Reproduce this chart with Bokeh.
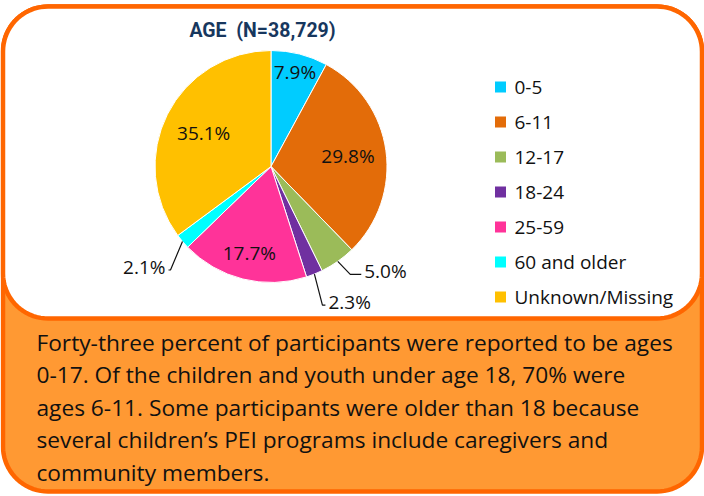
import numpy as np
from bokeh.plotting import figure
from bokeh.models import Range1d, ColumnDataSource
from bokeh.core.properties import value
from bokeh.embed import file_html
from bokeh.resources import INLINE

# ---------------- data ----------------
categories = ["0-5", "6-11", "12-17", "18-24", "25-59", "60 and older", "Unknown/Missing"]
percents = [7.9, 29.8, 5.0, 2.3, 17.7, 2.1, 35.1]
colors = ["#00CCFF", "#E36C09", "#9BBB59", "#7030A0", "#FF3399", "#00FFFF", "#FFC000"]
pct_labels = ["7.9%", "29.8%", "5.0%", "2.3%", "17.7%", "2.1%", "35.1%"]
title_text = "AGE \u00a0(N=38,729)"
body_lines = [
    "Forty-three percent of participants were reported to be ages",
    "0-17. Of the children and youth under age 18, 70% were",
    "ages 6-11. Some participants were older than 18 because",
    "several children\u2019s PEI programs include caregivers and",
    "community members.",
]

# ---------------- layout (pixel coords, y measured downward) ----------------
W, H = 704, 496
FONT = "Open Sans"
DARK = "#FF6600"
LIGHT = "#FF9933"


def Y(y):
    return H - np.asarray(y, dtype=float)


def rrect(x0, y0, x1, y1, r, n=20):
    xs, ys = [], []
    corners = [((x0 + r, y0 + r), np.pi, 1.5 * np.pi),
               ((x1 - r, y0 + r), 1.5 * np.pi, 2 * np.pi),
               ((x1 - r, y1 - r), 0.0, 0.5 * np.pi),
               ((x0 + r, y1 - r), 0.5 * np.pi, np.pi)]
    for (cx, cy), a0, a1 in corners:
        t = np.linspace(a0, a1, n)
        xs.extend(cx + r * np.cos(t))
        ys.extend(cy + r * np.sin(t))
    return list(xs), list(Y(ys))


p = figure(width=W, height=H, x_range=Range1d(0, W), y_range=Range1d(0, H),
           output_backend="svg", toolbar_location=None,
           x_axis_location=None, y_axis_location=None, min_border=0,
           outline_line_color=None, background_fill_color="white",
           border_fill_color="white")
p.grid.visible = False
p.margin = (0, 0, 0, 0)

# frame: outer orange box and white top panel
ox, oy = rrect(2.5, 6, 701.5, 491, 45)
p.patch(ox, oy, fill_color=LIGHT, line_color=DARK, line_width=4.5)
wx, wy = rrect(2.5, 6, 701.5, 318, 45)
p.patch(wx, wy, fill_color="white", line_color=DARK, line_width=4.5)

# title
p.text([262], Y([30]), text=[title_text], text_align="center", text_baseline="middle",
       text_font=value("Roboto"), text_font_style="bold", text_font_size="19.5px",
       text_color="#17375E")

# ---------------- pie ----------------
CX, CY, R = 270.5, 166.0, 116.0
total = sum(percents)
frac = np.array(percents) / total
cum = np.concatenate([[0], np.cumsum(frac)])
start = np.pi / 2 - 2 * np.pi * cum[:-1]
end = np.pi / 2 - 2 * np.pi * cum[1:]
src = ColumnDataSource(dict(start=start, end=end, color=colors, cat=categories))
p.wedge(x=CX, y=float(Y(CY)), radius=R, start_angle="start", end_angle="end",
        direction="clock", fill_color="color", line_color="white", line_width=1,
        source=src)

mid = np.pi / 2 - 2 * np.pi * (cum[:-1] + cum[1:]) / 2  # math angle, y up

LBL = "19px"
# inside labels: radius factor by slice index
inside = {0: 0.84, 1: 0.67, 4: 0.77, 6: 0.65}
ix, iy, it = [], [], []
for i, f in inside.items():
    ix.append(CX + f * R * np.cos(mid[i]))
    iy.append(float(Y(CY)) + f * R * np.sin(mid[i]))
    it.append(pct_labels[i])
p.text(ix, iy, text=it, text_align="center", text_baseline="middle",
       text_font=value(FONT), text_font_size=LBL, text_color="#111111")

# outside labels with leader lines: (elbow offset dx, dy(down), horizontal run)
outside = {2: (12.5, 13.0, 11.0), 3: (8.0, 31.0, 3.0), 5: (-12.0, 28.5, -2.0)}
for i, (dx, dy, run) in outside.items():
    ex = CX + R * np.cos(mid[i])
    ey = float(Y(CY)) + R * np.sin(mid[i])
    bx, by = ex + dx, ey - dy
    cx2 = bx + run
    p.line([ex, bx, cx2], [ey, by, by], line_color="#111111", line_width=1.2)
    align = "left" if run >= 0 else "right"
    tx = cx2 + (3 if run >= 0 else -3)
    p.text([tx], [by + 3], text=[pct_labels[i]], text_align=align,
           text_baseline="middle", text_font=value(FONT), text_font_size=LBL,
           text_color="#111111")

# ---------------- legend ----------------
LX, LY0, LDY = 500, 86.5, 35.0
ly = [LY0 + LDY * k for k in range(len(categories))]
p.rect([LX] * len(categories), list(Y(ly)), width=11, height=11,
       fill_color=colors, line_color=None)
p.text([514] * len(categories), list(Y(ly)), text=categories, text_align="left",
       text_baseline="middle", text_font=value(FONT), text_font_size="19px",
       text_color="#111111")

# ---------------- body text ----------------
by0, bdy = 342.0, 32.4
p.text([36] * len(body_lines), list(Y([by0 + bdy * k for k in range(len(body_lines))])),
       text=body_lines, text_align="left", text_baseline="middle",
       text_font=value(FONT), text_font_size="22.7px", text_color="#111111")

open("out.html", "w").write(file_html(p, INLINE))
